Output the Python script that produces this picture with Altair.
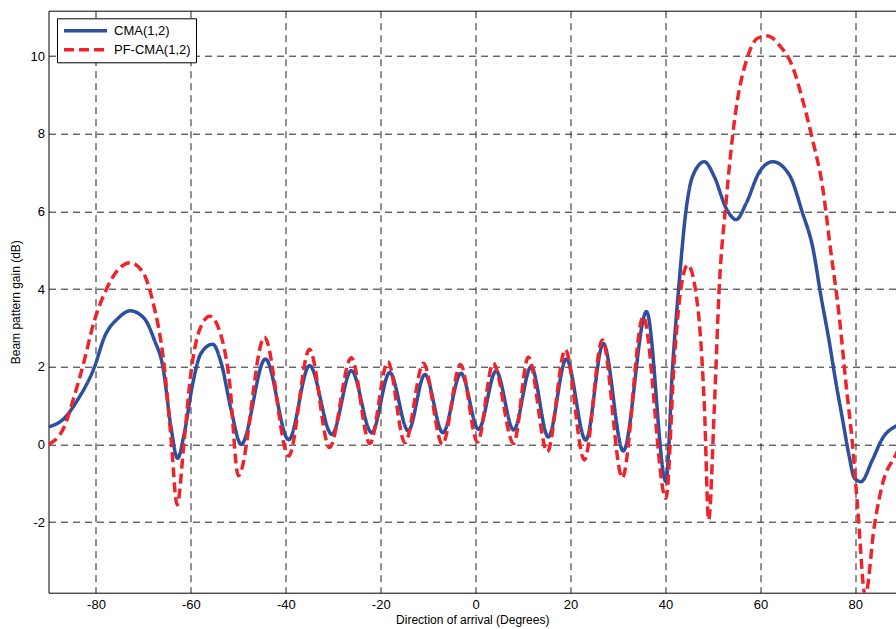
import altair as alt
import pandas as pd

series_names = ["CMA(1,2)", "PF-CMA(1,2)"]

cma_x = [-90, -86.7, -83.9, -80.3, -78.2, -75.4, -72.8, -69.8, -67.7, -65.9, -64.2, -62.8,
         -61.4, -59.6, -57.9, -55.4, -53.6, -51.5, -49.4, -44.3, -39.4, -35.0, -30.3, -26.2,
         -21.9, -18.1, -14.2, -10.7, -6.9, -3.1, 0.6, 4.3, 8.0, 11.7, 15.3, 19.1, 23.2, 26.9,
         31.1, 36.0, 40.1, 41.5, 42.9, 44.3, 45.7, 48.2, 50.3, 52.8, 54.9, 57.0, 59.8, 62.6,
         66.1, 68.9, 71.0, 72.8, 74.5, 75.9, 77.3, 78.7, 79.8, 81.2, 83.6, 85.8, 88.4, 90]
cma_y = [0.45, 0.67, 1.14, 2.0, 2.77, 3.24, 3.44, 3.24, 2.69, 2.0, 0.45, -0.36,
         0.28, 1.57, 2.34, 2.58, 2.09, 0.88, 0.0, 2.2, 0.12, 2.03, 0.26, 1.9,
         0.3, 1.85, 0.35, 1.8, 0.3, 1.83, 0.39, 1.89, 0.37, 2.0, 0.19, 2.2, 0.11, 2.6,
         -0.17, 3.42, -0.96, 2.0, 4.2, 6.0, 6.9, 7.28, 6.89, 6.08, 5.79, 6.21, 7.02, 7.28,
         6.94, 5.95, 5.09, 3.79, 2.65, 1.6, 0.65, -0.3, -0.87, -0.96, -0.4, 0.17, 0.46, 0.55]

pf_x = [-90, -86.7, -84.6, -82.8, -80.3, -77.9, -75.4, -72.8, -70.2, -68.1, -65.6, -64.2,
        -62.9, -61.4, -60.0, -58.2, -56.0, -54.0, -51.9, -50.0, -44.5, -39.4, -35.0, -30.8,
        -26.2, -22.3, -18.5, -14.9, -11.0, -7.0, -3.2, 0.4, 3.7, 8.0, 11.1, 15.1, 18.9, 22.9,
        26.7, 30.9, 35.3, 40.1, 41.9, 43.3, 44.7, 46.8, 48.2, 49.1, 50.3, 51.3, 52.8, 54.6,
        57.3, 59.4, 61.5, 64.0, 66.8, 68.9, 71.0, 73.1, 74.8, 76.6, 78.0, 79.4, 80.5, 82.1,
        84.0, 86.0, 88.4, 90]
pf_y = [0.0, 0.45, 1.23, 2.0, 3.2, 3.97, 4.49, 4.68, 4.45, 3.72, 2.0, 0.2,
        -1.56, 0.11, 1.83, 2.94, 3.30, 2.94, 1.66, -0.81, 2.76, -0.30, 2.45, -0.08,
        2.23, 0.02, 2.13, 0.04, 2.09, 0.0, 2.06, 0.06, 2.09, 0.02, 2.25, -0.19, 2.44, -0.40,
        2.69, -0.86, 3.29, -1.39, 2.26, 4.06, 4.62, 3.54, 0.97, -1.95, 0.97, 3.97, 6.29, 8.4,
        9.98, 10.46, 10.52, 10.28, 9.72, 8.87, 7.84, 6.63, 5.0, 3.31, 1.6, 0.0, -1.64, -3.9,
        -2.1, -0.9, -0.3, 0.1]

x_ticks = [-80, -60, -40, -20, 0, 20, 40, 60, 80]
y_ticks = [-2, 0, 2, 4, 6, 8, 10]

df_cma = pd.DataFrame({"x": cma_x, "y": cma_y, "series": series_names[0]})
df_pf = pd.DataFrame({"x": pf_x, "y": pf_y, "series": series_names[1]})

FONT = "Liberation Sans"
x_scale = alt.Scale(domain=[-90, 88.57], nice=False, zero=False)
y_scale = alt.Scale(domain=[-3.82, 11.17], nice=False, zero=False)

x_axis = alt.Axis(values=x_ticks, title="Direction of arrival (Degrees)", grid=True,
                  gridDash=[7, 5], gridColor="#222222", gridWidth=1, gridOpacity=1,
                  ticks=False, labelPadding=6, labelFontSize=13, labelColor="black",
                  labelFont=FONT, labelExpr="'' + datum.value",
                  titleFont=FONT, titleFontSize=12, titleFontWeight="normal",
                  titleColor="black", titlePadding=3,
                  domainColor="black", domainWidth=1)
y_axis = alt.Axis(values=y_ticks, title="Beam pattern gain (dB)", grid=True,
                  gridDash=[7, 5], gridColor="#222222", gridWidth=1, gridOpacity=1,
                  ticks=False, labelPadding=4, labelFontSize=13, labelColor="black",
                  labelFont=FONT, labelExpr="'' + datum.value",
                  titleFont=FONT, titleFontSize=12, titleFontWeight="normal",
                  titleColor="black", titlePadding=8,
                  domainColor="black", domainWidth=1)

legend = alt.Legend(title=None, orient="none", legendX=8.5, legendY=7.6,
                    symbolType="stroke", symbolSize=1849, symbolStrokeWidth=3.5,
                    clipHeight=15, rowPadding=4, padding=5, labelOffset=5,
                    labelFont=FONT, labelFontSize=13, labelColor="black",
                    strokeColor="black", fillColor="white", cornerRadius=0)

color_scale = alt.Scale(domain=series_names, range=["#2c4fa0", "#f0232b"])
dash_scale = alt.Scale(domain=series_names, range=[[1, 0], [10, 5]])


def line_layer(df):
    return alt.Chart(df).mark_line(strokeWidth=3.5, interpolate="monotone", clip=True,
                                   strokeCap="butt").encode(
        x=alt.X("x:Q", scale=x_scale, axis=x_axis),
        y=alt.Y("y:Q", scale=y_scale, axis=y_axis),
        color=alt.Color("series:N", scale=color_scale, legend=legend),
        strokeDash=alt.StrokeDash("series:N", scale=dash_scale, legend=legend),
    )


lines = alt.layer(line_layer(df_cma), line_layer(df_pf))

border = alt.Chart(df_cma).mark_line(opacity=0).encode(
    x=alt.X("x:Q", scale=x_scale,
            axis=alt.Axis(orient="top", labels=False, ticks=False, grid=False,
                          domain=True, domainColor="black", domainWidth=1, title=None)),
    y=alt.Y("y:Q", scale=y_scale, axis=y_axis),
)

chart = alt.layer(lines, border).resolve_axis(x="independent").properties(
    width=847.5, height=582,
    padding={"left": 48.5, "top": 10.7, "right": 0, "bottom": 36.3},
    autosize="none",
    background="white",
).configure_view(stroke=None)

chart.save("out.html", embed_options={"renderer": "svg", "actions": False})
